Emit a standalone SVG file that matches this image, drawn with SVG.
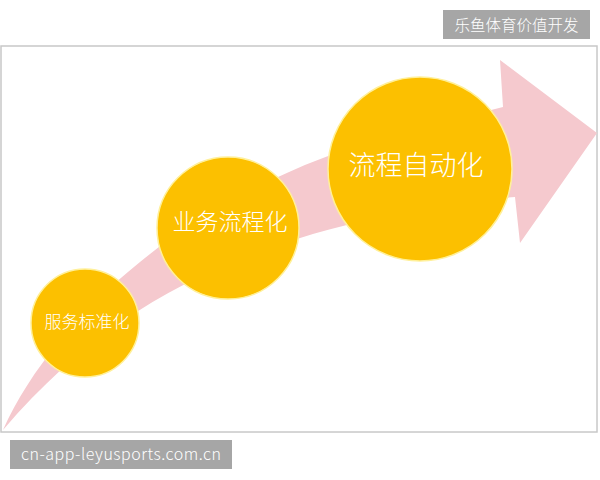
<svg xmlns="http://www.w3.org/2000/svg" width="600" height="480" viewBox="0 0 600 480">
<style>
.lbl{fill:#a6a6a6}
.lt{fill:#fff;font-family:"Noto Sans CJK SC","Liberation Sans",sans-serif;font-weight:300}
.c{fill:#fcc000;stroke:#fff09a;stroke-width:1.5}
.ct{fill:#fff;font-family:"Noto Sans CJK SC",sans-serif;text-anchor:middle;font-weight:300}
</style>
<rect width="600" height="480" fill="#fff"/>
<g id="title-label">
<rect class="lbl" x="443" y="10" width="147" height="29"/>
<text class="lt" x="516.5" y="30.5" font-size="15.5" text-anchor="middle">乐鱼体育价值开发</text>
</g>
<rect id="frame" x="1" y="46" width="596" height="386" fill="#fff" stroke="#c8c8c8" stroke-width="1.5"/>
<g id="connectors">
<path d="M3,430 C30,370 80,310 140,262 C200,213 290,162 400,133 L503,107 L500,60 L597,133 L520,243 L515,197 C420,205 330,225 250,255 C160,290 80,340 3,430 Z" fill="#f5c9ce"/>
</g>
<g id="node1">
<circle class="c" cx="85" cy="323" r="54"/>
<text class="ct" x="87" y="328" font-size="17">服务标准化</text>
</g>
<g id="node2">
<circle class="c" cx="228" cy="228" r="71"/>
<text class="ct" x="230" y="230" font-size="23">业务流程化</text>
</g>
<g id="node3">
<circle class="c" cx="420" cy="169" r="92"/>
<text class="ct" x="416" y="175" font-size="27">流程自动化</text>
</g>
<g id="url-label">
<rect class="lbl" x="10" y="440" width="222" height="29"/>
<text class="lt" x="121" y="460" font-size="16" text-anchor="middle" font-family="Liberation Sans,sans-serif" textLength="200">cn-app-leyusports.com.cn</text>
</g>
</svg>
